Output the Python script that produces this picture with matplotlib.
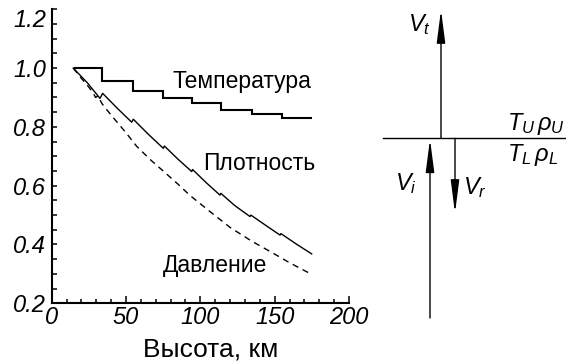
import matplotlib
matplotlib.use('Agg')
import matplotlib.pyplot as plt
from matplotlib.ticker import MultipleLocator

plt.rcParams['font.family'] = ['Liberation Sans', 'DejaVu Sans']
plt.rcParams['mathtext.fontset'] = 'custom'
plt.rcParams['mathtext.it'] = 'Liberation Sans:italic'
plt.rcParams['mathtext.rm'] = 'Liberation Sans'

# температура: ступени (границы по высоте и уровни)
temp_edges = [15, 33.6, 54.5, 74.7, 94.3, 114, 134.5, 154.7, 175]
temp_levels = [1.0, 0.956, 0.922, 0.899, 0.880, 0.857, 0.844, 0.829]

# плотность (с небольшими скачками на ступенях температуры)
dens_x = [14.5, 24, 32.5, 34.3, 44, 53.8, 54.9, 65, 75.1, 75.8, 85, 94.2, 94.8,
          104, 113.2, 113.8, 123, 133.4, 134, 144, 153.6, 154.2, 165, 174.9]
dens_y = [1.0, 0.95, 0.897, 0.914, 0.864, 0.816, 0.826, 0.775, 0.727, 0.735, 0.69,
          0.648, 0.655, 0.61, 0.568, 0.574, 0.533, 0.495, 0.50, 0.465, 0.432,
          0.437, 0.40, 0.368]

# давление
pres_x = [14.5, 20, 25, 28, 29.5, 31, 34, 40, 50, 57, 66, 75, 85, 93, 105, 120,
          135, 147, 160, 175]
pres_y = [1.0, 0.965, 0.935, 0.915, 0.90, 0.905, 0.878, 0.84, 0.78, 0.735, 0.69,
          0.65, 0.605, 0.567, 0.518, 0.458, 0.41, 0.376, 0.338, 0.298]

xticks = [0, 50, 100, 150, 200]
yticks = [0.2, 0.4, 0.6, 0.8, 1.0, 1.2]

fig = plt.figure(figsize=(5.66, 3.64), dpi=100)
ax = fig.add_axes([0.0913, 0.1668, 0.5253, 0.8077])

ax.stairs(temp_levels, temp_edges, baseline=None, color='black', lw=1.5)
ax.plot(dens_x, dens_y, color='black', lw=1.0)
ax.plot(pres_x, pres_y, color='black', lw=1.0, dashes=(4.5, 3.5))

ax.text(81.6, 0.953, 'Температура', fontsize=16.5, ha='left', va='center')
ax.text(101.8, 0.674, 'Плотность', fontsize=16.5, ha='left', va='center')
ax.text(74.9, 0.330, 'Давление', fontsize=16.5, ha='left', va='center')

ax.set_xlim(0, 200)
ax.set_ylim(0.2, 1.2)
ax.xaxis.set_minor_locator(MultipleLocator(10))
ax.yaxis.set_minor_locator(MultipleLocator(0.05))
ax.set_xticks(xticks)
ax.set_xticklabels([str(v) for v in xticks])
ax.set_yticks(yticks)
ax.set_yticklabels(['%.1f' % v for v in yticks])

for s in ['top', 'right']:
    ax.spines[s].set_visible(False)
for s in ['left', 'bottom']:
    ax.spines[s].set_linewidth(1.5)

ax.tick_params(axis='both', which='both', direction='in', width=1.1, labelsize=17)
ax.tick_params(axis='x', which='major', length=5, pad=2)
ax.tick_params(axis='x', which='minor', length=3)
ax.tick_params(axis='y', which='major', length=3.6, pad=4)
ax.tick_params(axis='y', which='minor', length=3.6)
for lab in ax.get_xticklabels() + ax.get_yticklabels():
    lab.set_fontstyle('italic')
ax.get_yticklabels()[-1].set_verticalalignment('top')

fig.text(211 / 566, 1 - 350 / 364, 'Высота, км', fontsize=19, ha='center', va='center')

# схема справа (в пиксельных координатах рисунка)
iface_y = 138.3
iface_x = (383, 566)
vt_x, vt_top = 441, 10
vi_x, vi_bottom = 430, 318
vr_x, vr_bottom = 455, 213

ax2 = fig.add_axes([0, 0, 1, 1])
ax2.set_xlim(0, 566)
ax2.set_ylim(364, 0)
ax2.axis('off')
ax2.patch.set_alpha(0)

ax2.plot(iface_x, [iface_y, iface_y], color='black', lw=1.0)
arrow = dict(arrowstyle='-|>,head_length=2.0,head_width=0.26', color='black',
             lw=1.0, shrinkA=0, shrinkB=0, mutation_scale=10)
ax2.annotate('', xy=(vt_x, vt_top), xytext=(vt_x, iface_y), arrowprops=arrow)
ax2.annotate('', xy=(vi_x, iface_y + 1), xytext=(vi_x, vi_bottom), arrowprops=arrow)
ax2.annotate('', xy=(vr_x, vr_bottom), xytext=(vr_x, iface_y), arrowprops=arrow)

ax2.text(419, 25, r'$V_t$', fontsize=17, ha='center', va='center')
ax2.text(406, 184, r'$V_i$', fontsize=17, ha='center', va='center')
ax2.text(475, 188, r'$V_r$', fontsize=17, ha='center', va='center')
ax2.text(507, 124, r'$T_U\,\rho_U$', fontsize=17, ha='left', va='center')
ax2.text(507, 155, r'$T_L\,\rho_L$', fontsize=17, ha='left', va='center')

fig.savefig('out.png', dpi=100)
